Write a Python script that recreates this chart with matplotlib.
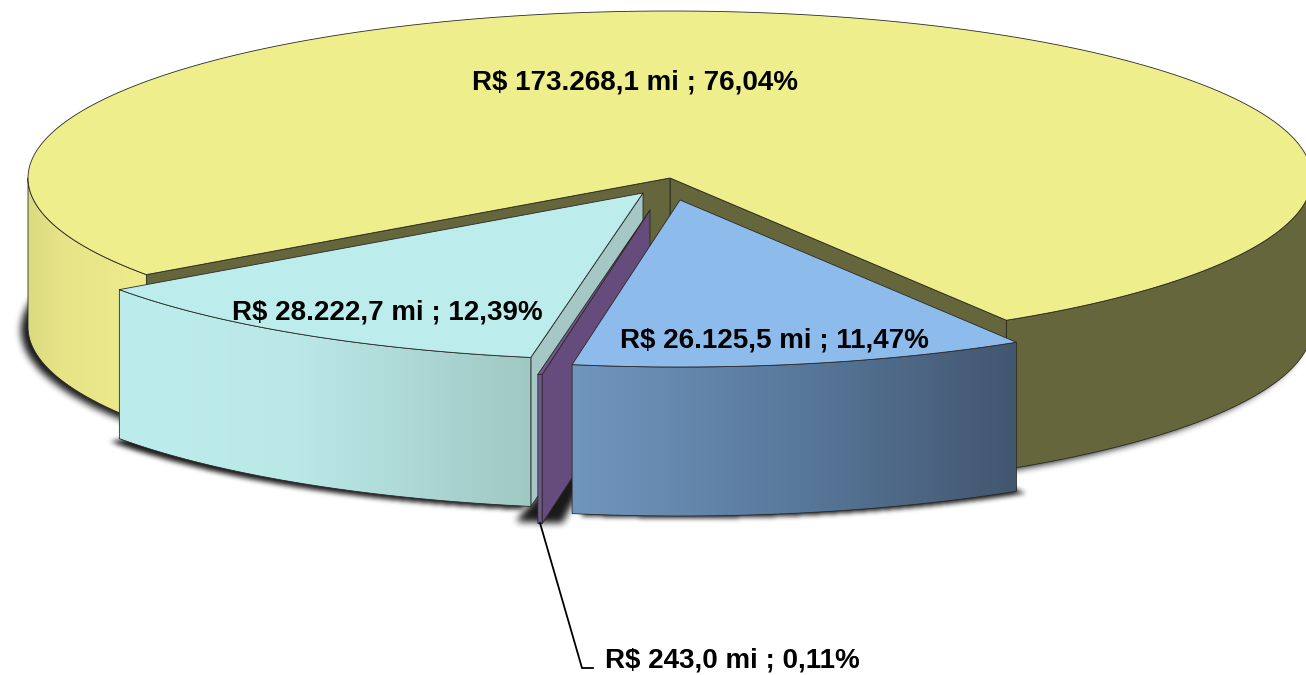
import numpy as np
import matplotlib
matplotlib.use("Agg")
import matplotlib.pyplot as plt
from matplotlib.path import Path
from matplotlib.patches import PathPatch, Polygon

# ---- data -------------------------------------------------------------
slice_names = ["amarelo", "ciano", "roxo", "azul"]
slice_values = [173268.1, 28222.7, 243.0, 26125.5]
slice_labels = ["R$ 173.268,1 mi ; 76,04%", "R$ 28.222,7 mi ; 12,39%",
                "R$ 243,0 mi ; 0,11%", "R$ 26.125,5 mi ; 11,47%"]

# ---- geometry / style --------------------------------------------------
W, H = 1306, 675
RX, RY, DEPTH = 642.0, 167.0, 149.0
START = -58.4                      # blue's right edge; slices run clockwise
apex = {"azul": (680, 200), "roxo": (650, 210), "ciano": (643, 193), "amarelo": (670, 178)}
top_col = {"amarelo": "#EEEE8C", "ciano": "#BCEDEC", "roxo": "#654C7C", "azul": "#8DBBEC"}
EDGE = "#2a2a26"
LW = 0.6

plt.rcParams["font.family"] = ["Liberation Sans", "DejaVu Sans"]
fig = plt.figure(figsize=(W / 100, H / 100), dpi=100)
ax = fig.add_axes([0, 0, 1, 1])
ax.axis("off")

sweep = dict(zip(slice_names, np.array(slice_values) / sum(slice_values) * 360))
blue_a = (START - sweep["azul"], START)
purple_a = (blue_a[0] - sweep["roxo"], blue_a[0])
cyan_a = (purple_a[0] - sweep["ciano"], purple_a[0])
yellow_a = (START, cyan_a[0] + 360)


def arc(c, a0, a1, dy=0.0, n=200):
    t = np.radians(np.linspace(a0, a1, n))
    return np.column_stack([c[0] + RX * np.cos(t), c[1] - RY * np.sin(t) + dy])


def wedge(c, a0, a1, dy=0.0):
    return np.vstack([[c[0], c[1] + dy], arc(c, a0, a1, dy)])


def wall(c, a0, a1):
    return np.vstack([arc(c, a0, a1), arc(c, a1, a0, DEPTH)])


def cut(c, a):
    p = arc(c, a, a, n=1)[0]
    return np.array([c, (c[0], c[1] + DEPTH), (p[0], p[1] + DEPTH), p])


def flat(poly, col, z, edge=EDGE, lw=LW):
    ax.add_patch(Polygon(poly, closed=True, fc=col, ec=edge, lw=lw, zorder=z, joinstyle="round"))


def gradient(poly, xs, cols, z):
    x = np.linspace(min(xs), max(xs), 600)
    c = np.array(cols, float) / 255
    img = np.stack([np.interp(x, xs, c[:, i]) for i in range(3)], axis=1)[None, :, :]
    im = ax.imshow(img, extent=(min(xs), max(xs), H, 0), aspect="auto", zorder=z,
                   interpolation="bilinear")
    clip = PathPatch(Path(poly, closed=False), transform=ax.transData)
    im.set_clip_path(clip)
    flat(poly, "none", z + 0.01)


# ---- soft shadows -------------------------------------------------------
yy, xx = np.mgrid[0:H, 0:W]
pts = np.column_stack([xx.ravel() + 0.5, yy.ravel() + 0.5])


def blur(m, r, passes=3):
    k = np.ones(2 * r + 1) / (2 * r + 1)
    for _ in range(passes):
        m = np.apply_along_axis(lambda v: np.convolve(v, k, mode="same"), 0, m)
        m = np.apply_along_axis(lambda v: np.convolve(v, k, mode="same"), 1, m)
    return m


def shadow(poly, dx, dy, r, z, strength=0.9):
    mask = Path(poly + (dx, dy)).contains_points(pts).reshape(H, W).astype(float)
    a = blur(mask, r) * strength
    rgba = np.zeros((H, W, 4))
    rgba[..., 3] = a
    ax.imshow(rgba, extent=(0, W, H, 0), aspect="auto", zorder=z, interpolation="bilinear")


shadow(wedge(apex["amarelo"], yellow_a[0], yellow_a[1], DEPTH), -7, 3, 3, 1)
shadow(wedge(apex["ciano"], cyan_a[0], cyan_a[1], DEPTH), -9, 3, 2, 1.1)
shadow(wedge(apex["azul"], blue_a[0], blue_a[1], DEPTH), 9, 2, 2, 1.2)
shadow(wedge(apex["roxo"], purple_a[0] - 2.0, purple_a[1] + 1.8, DEPTH), 0, -1, 3, 1.3)

# ---- yellow slice ---------------------------------------------------------
c = apex["amarelo"]
flat(cut(c, yellow_a[0]), "#66663C", 2)
flat(cut(c, yellow_a[1]), "#66663C", 2)
gradient(wall(c, 180, yellow_a[1]), [28, 60, 147], [(220, 218, 130), (231, 228, 135), (238, 235, 140)], 2.1)
flat(wall(c, yellow_a[0], 0), "#66663C", 2.1)
flat(wedge(c, yellow_a[0], yellow_a[1]), top_col["amarelo"], 2.2)

# ---- cyan slice -----------------------------------------------------------
c = apex["ciano"]
flat(cut(c, cyan_a[1]), "#A5C8C6", 3)
gradient(wall(c, *cyan_a), [118, 300, 420, 532],
         [(188, 237, 236), (186, 232, 231), (172, 215, 212), (160, 200, 196)], 3.1)
flat(wedge(c, *cyan_a), top_col["ciano"], 3.2)

# ---- purple slice -----------------------------------------------------------
c = apex["roxo"]
flat(cut(c, purple_a[1]), top_col["roxo"], 4)
flat(wall(c, *purple_a), "#70578C", 4.1, lw=0.6)
flat(wedge(c, *purple_a), "#70578C", 4.2, lw=0.6)

# ---- blue slice -------------------------------------------------------------
c = apex["azul"]
gradient(wall(c, *blue_a), [571, 800, 1018],
         [(113, 150, 190), (88, 120, 155), (66, 86, 110)], 5.1)
flat(wedge(c, *blue_a), top_col["azul"], 5.2)

# ---- labels -------------------------------------------------------------------
label_pos = {"amarelo": (634.5, 83), "ciano": (387, 312), "azul": (774, 341), "roxo": (732.5, 661)}
for name, lab in zip(slice_names, slice_labels):
    ax.text(*label_pos[name], lab, ha="center", va="center", fontsize=19.95,
            fontweight="bold", color="black", zorder=10)
ax.plot([540, 582, 593], [523, 668, 668], color="black", lw=1.3, zorder=9,
        solid_joinstyle="miter")

ax.set_xlim(0, W)
ax.set_ylim(H, 0)
fig.savefig("out.png", dpi=100, facecolor="white")
